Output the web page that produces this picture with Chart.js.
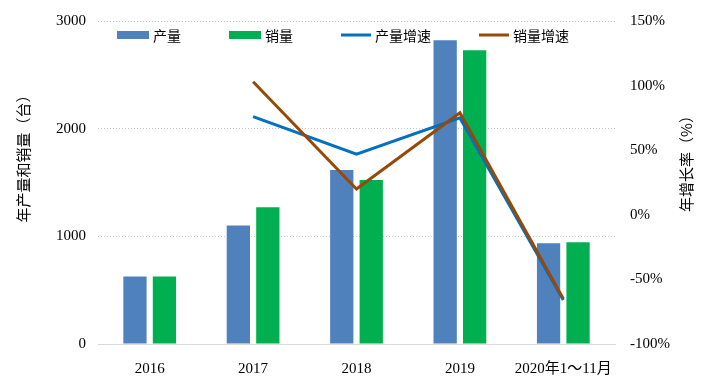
<!DOCTYPE html>
<html>
<head>
<meta charset="utf-8">
<script src="https://cdn.jsdelivr.net/npm/chart.js@4"></script>
<style>
  html, body { margin: 0; padding: 0; background: #fff; }
  #wrap { width: 711px; height: 392px; }
</style>
</head>
<body>
<div id="wrap"><canvas id="c"></canvas></div>
<script>
const categories = ['2016', '2017', '2018', '2019', '2020年1～11月']
const production = [626, 1100, 1617, 2822, 935]
const sales = [626, 1270, 1523, 2729, 944]
const productionGrowth = [null, 76, 47, 75, -66]
const salesGrowth = [null, 103, 20, 79, -65]
const leftTicks = [0, 1000, 2000, 3000]
const rightTicks = [-100, -50, 0, 50, 100, 150]

const FONT = "'Liberation Serif', 'Noto Sans CJK SC', serif"
const CJK = "'Noto Sans CJK SC', sans-serif"

// axis titles drawn by hand, both read bottom-to-top like the original
const axisTitles = {
    id: 'axisTitles',
    afterDraw(chart) {
        const ctx = chart.ctx
        ctx.save()
        ctx.fillStyle = '#000'
        ctx.font = '15px ' + CJK
        ctx.textAlign = 'center'
        ctx.textBaseline = 'middle'
        const draw = (text, x, y) => {
            ctx.save()
            ctx.translate(x, y)
            ctx.rotate(-Math.PI / 2)
            ctx.fillText(text, 0, 0)
            ctx.restore()
        }
        draw('年产量和销量（台）', 23, 155)
        draw('年增长率（%）', 686, 160)
        ctx.restore()
    }
}

// one-row legend sitting inside the top of the plot area
const innerLegend = {
    id: 'innerLegend',
    afterDatasetsDraw(chart) {
        const ctx = chart.ctx
        const area = chart.chartArea
        let x = area.left + 19
        const y = area.top + 14
        ctx.save()
        ctx.font = '14px ' + CJK
        ctx.textBaseline = 'middle'
        chart.data.datasets.forEach(ds => {
            if (ds.type === 'bar') {
                ctx.fillStyle = ds.backgroundColor
                ctx.fillRect(x, y - 4, 32, 8)
                x += 36
            } else {
                ctx.strokeStyle = ds.borderColor
                ctx.lineWidth = 3
                ctx.beginPath()
                ctx.moveTo(x, y)
                ctx.lineTo(x + 30, y)
                ctx.stroke()
                x += 34
            }
            ctx.fillStyle = '#000'
            ctx.fillText(ds.label, x, y + 1)
            x += ctx.measureText(ds.label).width + 48
        })
        ctx.restore()
    }
}

const datasets = [
    { type: 'bar', label: '产量', data: production, backgroundColor: '#4F81BD', yAxisID: 'y', order: 2 },
    { type: 'bar', label: '销量', data: sales, backgroundColor: '#00B050', yAxisID: 'y', order: 2 },
    { type: 'line', label: '产量增速', data: productionGrowth, borderColor: '#0070C0', backgroundColor: '#0070C0',
      borderWidth: 3, pointRadius: 0, yAxisID: 'y1', order: 1 },
    { type: 'line', label: '销量增速', data: salesGrowth, borderColor: '#984807', backgroundColor: '#984807',
      borderWidth: 3, pointRadius: 0, yAxisID: 'y1', order: 0 }
]

new Chart(document.getElementById('c'), {
    data: { labels: categories, datasets: datasets },
    options: {
        responsive: true,
        maintainAspectRatio: false,
        animation: false,
        datasets: { bar: { categoryPercentage: 0.57, barPercentage: 0.79 } },
        layout: { padding: { left: 44, right: 34, top: 19, bottom: 6 } },
        plugins: {
            tooltip: { enabled: false },
            legend: { display: false }
        },
        scales: {
            x: {
                grid: { display: false },
                border: { color: '#d9d9d9', width: 1 },
                ticks: { color: '#000', font: { family: FONT, size: 15 }, padding: 8, maxRotation: 0 }
            },
            y: {
                position: 'left',
                min: 0,
                max: 3000,
                afterBuildTicks: (axis) => { axis.ticks = leftTicks.map(v => ({ value: v })) },
                grid: { color: '#c8c8c8', drawTicks: false },
                border: { display: false, dash: [1, 2] },
                ticks: { color: '#000', font: { family: FONT, size: 15 }, padding: 12, callback: v => String(v) }
            },
            y1: {
                position: 'right',
                min: -100,
                max: 150,
                afterBuildTicks: (axis) => { axis.ticks = rightTicks.map(v => ({ value: v })) },
                grid: { display: false },
                border: { display: false },
                ticks: { color: '#000', font: { family: FONT, size: 15 }, padding: 7, callback: v => v + '%' }
            }
        }
    },
    plugins: [axisTitles, innerLegend]
})
</script>
</body>
</html>
